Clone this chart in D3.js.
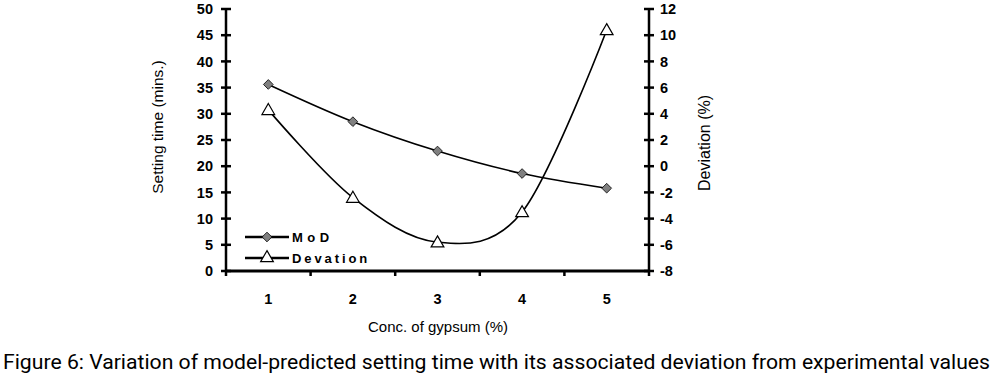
<!DOCTYPE html>
<html><head><meta charset="utf-8">
<script src="https://cdn.jsdelivr.net/npm/d3@7"></script>
<style>body{margin:0;background:#fff}svg{display:block}</style>
</head><body>
<svg id="c" width="998" height="378"></svg>
<script>
const categories = [1, 2, 3, 4, 5];
const modValues = [35.6, 28.5, 22.9, 18.6, 15.8];
const deviationValues = [4.3, -2.4, -5.8, -3.5, 10.4];
const leftTicks = [0, 5, 10, 15, 20, 25, 30, 35, 40, 45, 50];
const rightTicks = [-8, -6, -4, -2, 0, 2, 4, 6, 8, 10, 12];
const seriesNames = ["MoD", "Devation"];

const svg = d3.select("#c");
const L = 226, R = 649, T = 9, B = 271;
const x = d3.scaleBand().domain(categories).range([L, R]);
const yL = d3.scaleLinear().domain([0, 50]).range([B, T]);
const yR = d3.scaleLinear().domain([-8, 12]).range([B, T]);
const cx = d => x(d) + x.bandwidth() / 2;

const fontB = "Arial, 'Liberation Sans', sans-serif";

// Left axis
const gl = svg.append("g").attr("transform", `translate(${L},0)`);
gl.append("line").attr("y1", T).attr("y2", B).attr("stroke", "#000").attr("stroke-width", 2.5);
gl.selectAll("line.t").data(leftTicks).join("line").attr("class","t")
  .attr("x1", -5).attr("x2", 5).attr("y1", d => yL(d)).attr("y2", d => yL(d))
  .attr("stroke", "#000").attr("stroke-width", 2.5);
gl.selectAll("text").data(leftTicks).join("text")
  .attr("x", -13).attr("y", d => yL(d)).attr("dy", "0.36em")
  .attr("text-anchor", "end").attr("font-family", fontB).attr("font-weight", "bold")
  .attr("font-size", 14.5).text(d => d);

// Right axis
const gr = svg.append("g").attr("transform", `translate(${R},0)`);
gr.append("line").attr("y1", T).attr("y2", B).attr("stroke", "#000").attr("stroke-width", 2.5);
gr.selectAll("line.t").data(rightTicks).join("line").attr("class","t")
  .attr("x1", -5).attr("x2", 5).attr("y1", d => yR(d)).attr("y2", d => yR(d))
  .attr("stroke", "#000").attr("stroke-width", 2.5);
gr.selectAll("text").data(rightTicks).join("text")
  .attr("x", 11).attr("y", d => yR(d)).attr("dy", "0.36em")
  .attr("text-anchor", "start").attr("font-family", fontB).attr("font-weight", "bold")
  .attr("font-size", 14.5).text(d => d);

// Bottom axis
const gb = svg.append("g");
gb.append("line").attr("x1", L).attr("x2", R).attr("y1", B).attr("y2", B)
  .attr("stroke", "#000").attr("stroke-width", 3);
const bounds = categories.map(c => x(c)).concat([R]);
gb.selectAll("line.t").data(bounds).join("line").attr("class","t")
  .attr("x1", d => d).attr("x2", d => d).attr("y1", B).attr("y2", B + 5)
  .attr("stroke", "#000").attr("stroke-width", 2.5);
gb.selectAll("text").data(categories).join("text")
  .attr("x", d => cx(d)).attr("y", 304).attr("text-anchor", "middle")
  .attr("font-family", fontB).attr("font-weight", "bold").attr("font-size", 14.5).text(d => d);

// Axis titles
svg.append("text").attr("transform", `translate(163,127) rotate(-90)`)
  .attr("text-anchor", "middle").attr("font-family", fontB).attr("font-size", 15.5)
  .text("Setting time (mins.)");
svg.append("text").attr("transform", `translate(710,143) rotate(-90)`)
  .attr("text-anchor", "middle").attr("font-family", fontB).attr("font-size", 16)
  .text("Deviation (%)");
svg.append("text").attr("x", 438).attr("y", 332).attr("text-anchor", "middle")
  .attr("font-family", fontB).attr("font-size", 15).text("Conc. of gypsum (%)");

// Lines
const curve = d3.curveCatmullRom.alpha(0);
const lineMod = d3.line().x((d, i) => cx(categories[i])).y(d => yL(d)).curve(curve);
const lineDev = d3.line().x((d, i) => cx(categories[i])).y(d => yR(d)).curve(curve);
svg.append("path").attr("d", lineMod(modValues)).attr("fill", "none").attr("stroke", "#000").attr("stroke-width", 1.6);
svg.append("path").attr("d", lineDev(deviationValues)).attr("fill", "none").attr("stroke", "#000").attr("stroke-width", 1.6);

const diamond = d3.symbol().type(d3.symbolDiamond2).size(60);
const tri = d3.symbol().type(d3.symbolTriangle).size(70);
svg.selectAll("path.m").data(modValues).join("path").attr("class","m")
  .attr("d", diamond).attr("transform", (d, i) => `translate(${cx(categories[i])},${yL(d)})`)
  .attr("fill", "#808080").attr("stroke", "#000").attr("stroke-width", 0.8);
svg.selectAll("path.dv").data(deviationValues).join("path").attr("class","dv")
  .attr("d", tri).attr("transform", (d, i) => `translate(${cx(categories[i])},${yR(d)+1})`)
  .attr("fill", "#fff").attr("stroke", "#000").attr("stroke-width", 1.2);

// Legend
const lg = svg.append("g");
const legY = [237, 258];
const legSpacing = [4.5, 2.9];
lg.selectAll("line").data(seriesNames).join("line")
  .attr("x1", 245).attr("x2", 289).attr("y1", (d, i) => legY[i]).attr("y2", (d, i) => legY[i])
  .attr("stroke", "#000").attr("stroke-width", 2.5);
lg.append("path").attr("d", diamond).attr("transform", `translate(267,${legY[0]})`)
  .attr("fill", "#808080").attr("stroke", "#000").attr("stroke-width", 0.8);
lg.append("path").attr("d", tri).attr("transform", `translate(267,${legY[1]})`)
  .attr("fill", "#fff").attr("stroke", "#000").attr("stroke-width", 1.2);
lg.selectAll("text").data(seriesNames).join("text")
  .attr("x", 292).attr("y", (d, i) => legY[i]).attr("dy", "0.36em")
  .attr("font-family", fontB).attr("font-weight", "bold").attr("font-size", 13)
  .attr("letter-spacing", (d, i) => legSpacing[i]).text(d => d);

// Caption
svg.append("text").attr("x", 3).attr("y", 369)
  .attr("font-family", "Roboto, sans-serif").attr("font-size", 21)
  .attr("textLength", 987).attr("lengthAdjust", "spacingAndGlyphs")
  .text("Figure 6: Variation of model-predicted setting time with its associated deviation from experimental values");
</script>
</body></html>
